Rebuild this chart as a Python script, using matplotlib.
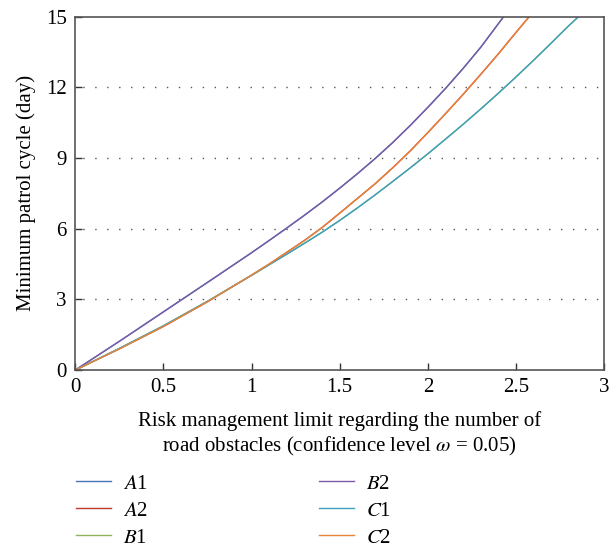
import numpy as np
import matplotlib
matplotlib.use("Agg")
import matplotlib.pyplot as plt

plt.rcParams['font.family'] = ['Liberation Serif', 'DejaVu Serif']
plt.rcParams['mathtext.fontset'] = 'stix'

# Valores
x_b2 = [0, 0.25, 0.5, 0.75, 1.0, 1.1, 1.2, 1.3, 1.4, 1.5, 1.6, 1.7, 1.8, 1.9, 2.0, 2.1, 2.2, 2.3, 2.43]
y_b2 = [0, 1.22, 2.47, 3.72, 4.98, 5.5, 6.03, 6.57, 7.13, 7.72, 8.33, 8.97, 9.65, 10.38, 11.15, 11.95, 12.8, 13.7, 15.0]

x_c2 = [0, 0.25, 0.5, 0.75, 1.0, 1.1, 1.2, 1.3, 1.4, 1.5, 1.6, 1.7, 1.8, 1.9, 2.0, 2.1, 2.2, 2.3, 2.4, 2.5, 2.575]
y_c2 = [0, 0.9, 1.85, 2.9, 4.03, 4.5, 5.0, 5.5, 6.05, 6.66, 7.28, 7.9, 8.58, 9.3, 10.08, 10.88, 11.7, 12.55, 13.42, 14.33, 15.0]

x_c1 = [0, 0.25, 0.5, 0.75, 1.0, 1.1, 1.2, 1.3, 1.4, 1.5, 1.6, 1.7, 1.8, 1.9, 2.0, 2.1, 2.2, 2.3, 2.4, 2.5, 2.6, 2.7, 2.8, 2.855]
y_c1 = [0, 0.92, 1.88, 2.92, 4.02, 4.47, 4.92, 5.38, 5.85, 6.35, 6.88, 7.43, 8.0, 8.58, 9.18, 9.8, 10.43, 11.08, 11.75, 12.44, 13.15, 13.88, 14.62, 15.0]

# A1, A2 e B1 ficam escondidas sob B2, C2 e C1
series = [
    ('$A$1', x_b2, y_b2, '#4a72b8'),
    ('$A$2', x_c2, y_c2, '#c0392b'),
    ('$B$1', x_c1, y_c1, '#8fb35a'),
    ('$B$2', x_b2, y_b2, '#7b5aa6'),
    ('$C$1', x_c1, y_c1, '#3a9fc0'),
    ('$C$2', x_c2, y_c2, '#e8843a'),
]

fig = plt.figure(figsize=(6.16, 5.5), dpi=100)
ax = fig.add_axes([0.122, 0.327, 0.859, 0.643])

for label, xs, ys, cor in series:
    ax.plot(xs, ys, color=cor, lw=1.0, label=label)

for yv in [3, 6, 9, 12]:
    ax.axhline(yv, color='#555555', lw=1.0, ls=(3, (1, 7.6)), zorder=0)

ax.set_xlim(0, 3)
ax.set_ylim(0, 15)
ax.set_xticks([0, 0.5, 1, 1.5, 2, 2.5, 3])
ax.set_xticklabels(['0', '0.5', '1', '1.5', '2', '2.5', '3'])
ax.set_yticks([0, 3, 6, 9, 12, 15])
ax.tick_params(direction='in', length=5, width=1, colors='#333333', labelsize=15, labelcolor='black')
ax.tick_params(axis='x', pad=6)
ax.tick_params(axis='y', pad=6)
for s in ax.spines.values():
    s.set_color('#555555')
    s.set_linewidth(1.2)

ax.set_ylabel('Minimum patrol cycle (day)', fontsize=15, labelpad=7)
ax.set_xlabel('Risk management limit regarding the number of\nroad obstacles (confidence level $\\omega$ = 0.05)',
              fontsize=15, labelpad=10, linespacing=1.25)

fig.legend(loc='upper left', bbox_to_anchor=(76 / 616, 1 - 474 / 550), ncol=2, frameon=False,
           fontsize=15, handlelength=1.7, handletextpad=0.55, columnspacing=8.2,
           labelspacing=0.36, borderpad=0, borderaxespad=0)

fig.savefig('out.png', dpi=100)
